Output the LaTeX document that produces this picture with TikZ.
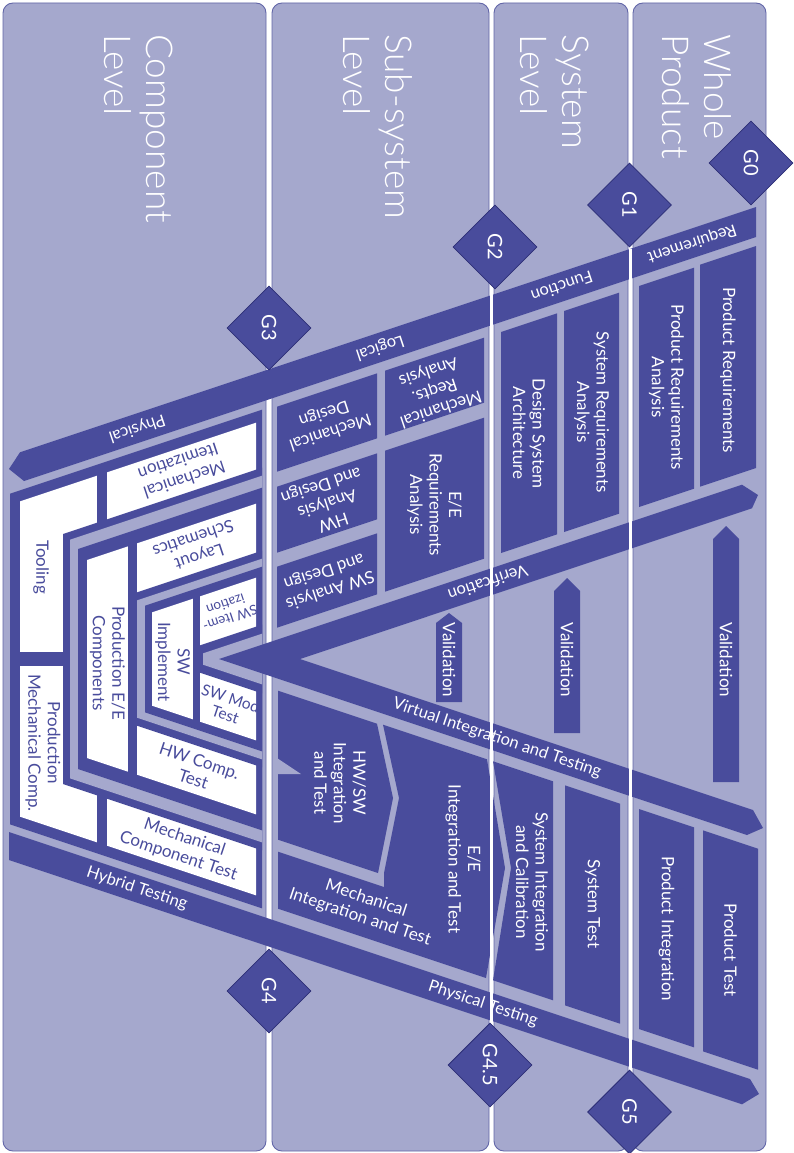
\documentclass[tikz,border=0pt]{standalone}
\usepackage{fontspec}
\setmainfont{Lato}
\IfFontExistsTF{Lato Light}{\newfontfamily\lightfam{Lato Light}}{\newfontfamily\lightfam{Lato}}
\usetikzlibrary{shapes.geometric}

\definecolor{vdark}{RGB}{73,76,156}
\definecolor{lanebg}{RGB}{165,168,205}
\definecolor{laneedge}{RGB}{98,102,168}
\definecolor{gateedge}{RGB}{44,46,118}

\newcommand\headfnt{\lightfam\fontsize{37}{42}\selectfont}
\newcommand\boxfnt{\fontsize{17}{19.5}\selectfont}
\newcommand\bandfnt{\fontsize{16.5}{18}\selectfont}
\newcommand\gatefnt{\fontsize{20}{24}\selectfont}
\newcommand\tinyfnt{\fontsize{13.5}{14.5}\selectfont}
\newcommand\smallfnt{\fontsize{15.5}{17}\selectfont}

% Geometry: axis y=659; upper family of lines y = 659 - m - x/3,
% lower family of lines y = 659 + n + x/3.
% box between two upper lines, vertical sides at x1,x2
\newcommand{\upbox}[5]{\fill[#1] (#2,{659-(#5)-(#2)/3}) -- (#3,{659-(#5)-(#3)/3}) -- (#3,{659-(#4)-(#3)/3}) -- (#2,{659-(#4)-(#2)/3}) -- cycle;}
% box between two lower lines
\newcommand{\lowbox}[5]{\fill[#1] (#2,{659+(#4)+(#2)/3}) -- (#3,{659+(#4)+(#3)/3}) -- (#3,{659+(#5)+(#3)/3}) -- (#2,{659+(#5)+(#2)/3}) -- cycle;}
% nested bracket region: x >= left, m <= k, n <= k, x <= right
\newcommand{\nest}[4]{\fill[#1] (#2,{659-(#3)-(#2)/3}) -- (#4,{659-(#3)-(#4)/3}) -- (#4,{659+(#3)+(#4)/3}) -- (#2,{659+(#3)+(#2)/3}) -- cycle;}

\tikzset{
  lane/.style={fill=lanebg, draw=laneedge, line width=0.9pt, rounded corners=10pt},
  gatenode/.style={diamond, aspect=1, fill=vdark, draw=gateedge, line width=0.8pt,
    minimum size=84pt, inner sep=0pt, text=white, font=\gatefnt, rotate=-90},
  headtext/.style={text=white, font=\headfnt, align=left, inner sep=0pt, rotate=-90, anchor=west},
  dtext/.style={text=white, font=\boxfnt, align=center, inner sep=0pt},
  wtext/.style={text=vdark, font=\boxfnt, align=center, inner sep=0pt},
  btext/.style={text=white, font=\bandfnt, inner sep=0pt},
  vdown/.style={rotate=-90},
  vupside/.style={rotate=198.43},
  vslope/.style={rotate=-18.43},
  lanesep/.style={white, line width=3pt},
}

\begin{document}
\begin{tikzpicture}[x=1pt,y=-1pt]
\useasboundingbox (0,0) rectangle (794,1153);
\fill[white] (0,0) rectangle (794,1153);

% ---- swim lanes
\draw[lane] (3,3) rectangle (266,1151);
\draw[lane] (272,3) rectangle (489,1151);
\draw[lane] (494,3) rectangle (628,1151);
\draw[lane] (633,3) rectangle (766,1151);

% ---- component level: nested brackets
\nest{vdark}{10}{162}{262}
\nest{white}{20}{151}{256}
\fill[vdark] (97,466) rectangle (107,852);
\fill[vdark] (19,652) rectangle (64,666);
\nest{vdark}{63}{104}{262}
\nest{lanebg}{70}{96}{262}
\nest{vdark}{78}{84}{262}
\nest{white}{87}{70}{256}
\fill[vdark] (128,535) rectangle (137,783);
\nest{vdark}{128}{21}{262}
\nest{lanebg}{137}{13}{262}
\nest{vdark}{145}{5}{262}
\nest{white}{152}{-4}{256}
\fill[vdark] (193,592) rectangle (200,726);
\nest{vdark}{193}{-53}{262}
\nest{lanebg}{203}{-62}{262}

% ---- left arm boxes (design side)
\upbox{vdark}{700}{756}{-61}{161}
\upbox{vdark}{639}{694}{-61}{160}
\upbox{vdark}{564}{619}{-61}{160}
\upbox{vdark}{501}{557}{-61}{160}
\upbox{vdark}{385}{484}{95}{160}
\upbox{vdark}{385}{484}{-61}{80}
\upbox{vdark}{277}{377}{95}{160}
\upbox{vdark}{277}{377}{14}{80}
\upbox{vdark}{277}{377}{-61}{0}

% ---- right arm boxes (integration side)
\lowbox{vdark}{703}{758}{-63}{158}
\lowbox{vdark}{639}{694}{-63}{157}
\lowbox{vdark}{565}{620}{-62}{158}
% system integration with notch
\fill[vdark] (493,761.3) -- (553,781.3) -- (553,1000.3) -- (493,980.3) -- (511,868) -- cycle;
% E/E and mechanical integration
\fill[vdark] (383,724.7) -- (487,759.3) -- (505,868) -- (486,978) -- (278,908.7) -- (278,851.7)
  -- (384,887) -- (384,873) -- (399,798) -- cycle;
% HW/SW integration
\fill[vdark] (278,690.7) -- (377,723.7) -- (393,798) -- (378,873) -- (278,839.7) -- cycle;
\fill[lanebg] (277,758) -- (301,774) -- (277,774) -- cycle;

% ---- main bands
\fill[vdark] (756,207) -- (756,237) -- (24,481) -- (9,469) -- (20,452.3) -- cycle;
\fill[vdark] (9,832) -- (750,1079) -- (759,1094) -- (742,1104.3) -- (9,860) -- cycle;
% verification / virtual integration chevron
\fill[vdark] (219,659) -- (742,484.7) -- (758,495) -- (752,508.3) -- (300,659)
  -- (753,810) -- (763,828) -- (747,835) -- cycle;

% ---- validation arrows
\fill[vdark] (436,702) -- (436,623) -- (449,613) -- (462,623) -- (462,702) -- cycle;
\fill[vdark] (554,733) -- (554,591) -- (567,578) -- (580,591) -- (580,733) -- cycle;
\fill[vdark] (713,782) -- (713,539) -- (726,526) -- (739,539) -- (739,782) -- cycle;

% ---- lane separators crossing the bands
\draw[lanesep] (491.5,292) -- (491.5,1022);
\draw[lanesep] (630.5,249) -- (630.5,1070);

% ---- gates
\node[gatenode] (g0) at (751,163) {G0};
\node[gatenode] (g1) at (629.5,205) {G1};
\node[gatenode] (g2) at (495,247) {G2};
\node[gatenode] (g3) at (269,328) {G3};
\node[gatenode] (g4) at (269,991) {G4};
\node[gatenode] (g45) at (490,1065) {G4.5};
\node[gatenode] (g5) at (629.5,1112) {G5};

% ---- lane headings
\node[headtext] (hcomp) at (139,34) {Component\\Level};
\node[headtext] (hsub) at (378,34) {Sub-system\\Level};
\node[headtext] (hsys) at (555,34) {System\\Level};
\node[headtext] (hwhole) at (697,34) {Whole\\Product};

% ---- band labels
\node[btext, vupside] (lreq) at (692,243.3) {Requirement};
\node[btext, vupside] (lfun) at (562,286.7) {Function};
\node[btext, vupside] (llog) at (380,347.3) {Logical};
\node[btext, vupside] (lphy) at (137,428.3) {Physical};
\node[btext, vupside] (lver) at (488,582.8) {Verification};
\node[btext, vslope] (lvit) at (497,738.2) {Virtual Integration and Testing};
\node[btext, vslope] (lhyb) at (137,888.7) {Hybrid Testing};
\node[btext, vslope] (lpht) at (483,1004) {Physical Testing};

% ---- validation labels
\node[dtext, vdown] (val2) at (449,660) {Validation};
\node[dtext, vdown] (val3) at (567,660) {Validation};
\node[dtext, vdown] (val4) at (726,660) {Validation};

% ---- design side labels
\node[dtext, vdown] (pr) at (728,370) {Product Requirements};
\node[dtext, vdown] (pra) at (666.5,387.3) {Product Requirements\\Analysis};
\node[dtext, vdown] (sra) at (591.5,412.3) {System Requirements\\Analysis};
\node[dtext, vdown] (dsa) at (529,433.2) {Design System\\Architecture};
\node[dtext, vupside] (mra) at (434.5,390) {Mechanical\\Reqts.\\Analysis};
\node[dtext, vdown] (eera) at (434.5,504.7) {E/E\\Requirements\\Analysis};
\node[dtext, vupside] (md) at (327,422.5) {Mechanical\\Design};
\node[dtext, vupside] (hwad) at (327,503) {HW\\Analysis\\and Design};
\node[dtext, vupside] (swad) at (327,580.5) {SW Analysis\\and Design};

% ---- integration side labels
\node[dtext, vdown] (pt) at (730.5,950) {Product Test};
\node[dtext, vdown] (pi) at (666.5,928.7) {Product Integration};
\node[dtext, vdown] (st) at (592.5,904) {System Test};
\node[dtext, vdown] (sic) at (532,882) {System Integration\\and Calibration};
\node[dtext, vdown] (eeit) at (463,859) {E/E\\Integration and Test};
\node[dtext, vdown] (hwsw) at (340,783) {HW/SW\\Integration\\and Test};
\node[dtext, vslope] (mit) at (363,908) {Mechanical\\Integration and Test};

% ---- component level labels
\node[wtext, vdown] (tool) at (41,567) {Tooling};
\node[wtext, vdown] (pmc) at (43,743) {Production\\Mechanical Comp.};
\node[wtext, vdown] (peec) at (107.5,663) {Production E/E\\Components};
\node[wtext, vdown] (swi) at (172.5,662) {SW\\Implement};
\node[wtext, vupside] (mitem) at (181.5,471) {Mechanical\\Itemization};
\node[wtext, vupside] (lay) at (196.5,548) {Layout\\Schematics};
\node[wtext, vupside, font=\tinyfnt] (swit) at (228,611.5) {SW Item-\\ization};
\node[wtext, vslope, font=\smallfnt] (swmt) at (228,706.5) {SW Mod\\Test};
\node[wtext, vslope] (hwct) at (196.5,770) {HW Comp.\\Test};
\node[wtext, vslope] (mct) at (181.5,847) {Mechanical\\Component Test};
\end{tikzpicture}
\end{document}
